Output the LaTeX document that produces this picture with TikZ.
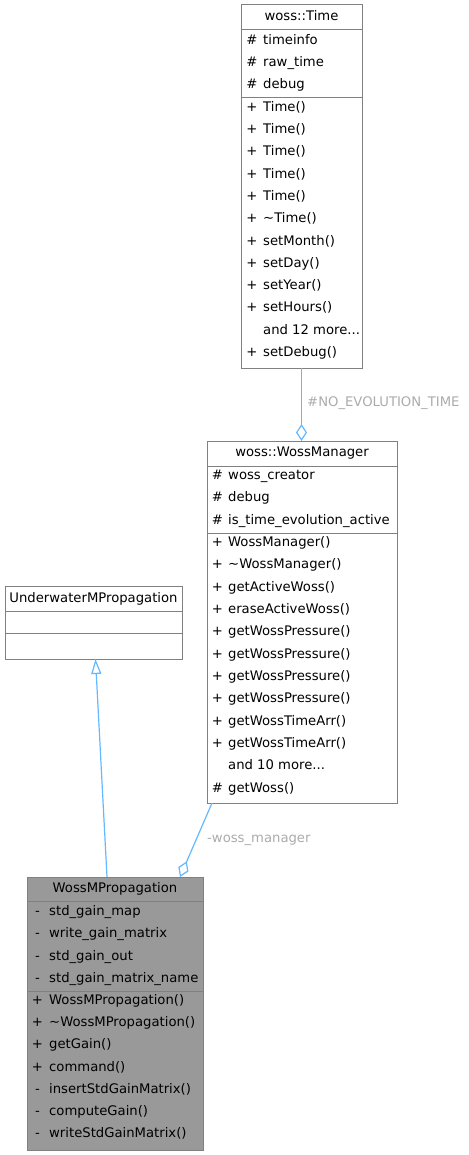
\documentclass[tikz,border=0pt]{standalone}
\usepackage{fontspec}
\setmainfont{DejaVu Sans}
\usetikzlibrary{arrows.meta,calc}
\definecolor{bordc}{HTML}{808080}
\definecolor{edgec}{HTML}{63B8FF}
\definecolor{labc}{HTML}{ABABAB}
\definecolor{fillc}{HTML}{999999}
\definecolor{txtc}{HTML}{000000}
\newcommand\mydots{...}
\newcommand\myfont{\fontsize{13.2}{15}\selectfont}
\begin{document}
\begin{tikzpicture}[x=1pt,y=-1pt,
 box/.style={draw=bordc,line width=1pt,inner sep=0,outer sep=0,anchor=north west,fill=white},
 txt/.style={font=\myfont,inner sep=0,anchor=mid west,text=txtc},
 ttl/.style={font=\myfont,inner sep=0,anchor=mid,text=txtc},
 vis/.style={font=\myfont,inner sep=0,anchor=mid,text=txtc},
 sep/.style={draw=bordc,line width=1pt},
 edge/.style={draw=edgec,line width=1.2pt},
 elab/.style={font=\myfont,text=labc,inner sep=0,anchor=mid west}]
\useasboundingbox (0,0) rectangle (468,1155);

% ---------- woss::Time ----------
\node[box,minimum width=121pt,minimum height=363pt] (time) at (241,5) {};
\node[ttl] (timettl) at (301.5,17.5) {woss::Time};
\draw[sep] (241,30) -- (362,30);
\draw[sep] (241,98) -- (362,98);
\foreach \v/\n [count=\k from 0] in {\#/timeinfo,\#/raw\_time,\#/debug}{
  \node[vis] (tav\k) at (252,41.5+\k*22.3) {\v};
  \node[txt] (tan\k) at (263,41.5+\k*22.3) {\n};
}
\foreach \v/\n [count=\k from 0] in {+/Time(),+/Time(),+/Time(),+/Time(),+/Time(),+/\textasciitilde Time(),+/setMonth(),+/setDay(),+/setYear(),+/setHours(),/and 12 more\mydots,+/setDebug()}{
  \node[vis] (tmv\k) at (252,108.5+\k*22.3) {\v};
  \node[txt] (tmn\k) at (263,108.5+\k*22.3) {\n};
}

% ---------- woss::WossManager ----------
\node[box,minimum width=190pt,minimum height=362pt] (wm) at (207,441) {};
\node[ttl] (wmttl) at (302,453.5) {woss::WossManager};
\draw[sep] (207,466) -- (397,466);
\draw[sep] (207,533) -- (397,533);
\foreach \v/\n [count=\k from 0] in {\#/woss\_creator,\#/debug,\#/is\_time\_evolution\_active}{
  \node[vis] (wav\k) at (217.5,476.7+\k*22.3) {\v};
  \node[txt] (wan\k) at (228,476.7+\k*22.3) {\n};
}
\foreach \v/\n [count=\k from 0] in {+/WossManager(),+/\textasciitilde WossManager(),+/getActiveWoss(),+/eraseActiveWoss(),+/getWossPressure(),+/getWossPressure(),+/getWossPressure(),+/getWossPressure(),+/getWossTimeArr(),+/getWossTimeArr(),/and 10 more\mydots,\#/getWoss()}{
  \node[vis] (wmv\k) at (217.5,543.7+\k*22.33) {\v};
  \node[txt] (wmn\k) at (228,543.7+\k*22.33) {\n};
}

% ---------- UnderwaterMPropagation ----------
\node[box,minimum width=177pt,minimum height=73pt] (uwp) at (5,586) {};
\node[ttl] (uwpttl) at (93.5,600) {UnderwaterMPropagation};
\draw[sep] (5,611) -- (182,611);
\draw[sep] (5,633) -- (182,633);

% ---------- WossMPropagation ----------
\node[box,fill=fillc,minimum width=176pt,minimum height=273pt] (wmp) at (27,877) {};
\node[ttl] (wmpttl) at (115,890) {WossMPropagation};
\draw[sep] (27,901) -- (203,901);
\draw[sep] (27,991) -- (203,991);
\foreach \v/\n [count=\k from 0] in {-/std\_gain\_map,-/write\_gain\_matrix,-/std\_gain\_out,-/std\_gain\_matrix\_name}{
  \node[vis] (pav\k) at (37.5,912.7+\k*22.33) {\v};
  \node[txt] (pan\k) at (49,912.7+\k*22.33) {\n};
}
\foreach \v/\n [count=\k from 0] in {+/WossMPropagation(),+/\textasciitilde WossMPropagation(),+/getGain(),+/command(),-/insertStdGainMatrix(),-/computeGain(),-/writeStdGainMatrix()}{
  \node[vis] (pmv\k) at (37.5,1001.7+\k*22.22) {\v};
  \node[txt] (pmn\k) at (49,1001.7+\k*22.22) {\n};
}

% ---------- connectors ----------
\draw[edge,-{Diamond[open,length=17pt,width=11pt]}] (time.south) -- (time.south |- wm.north);
\node[elab] (l1) at (307,404) {\#NO\_EVOLUTION\_TIME};

\draw[edge,-{Diamond[open,length=17pt,width=11pt]}] ($(wm.south west)+(5,0)$) -- ($(wmp.north west)+(153,0)$);
\node[elab] (l2) at (207,840) {-woss\_manager};

\draw[edge,-{Triangle[open,length=15pt,width=10pt]}] ($(wmp.north west)+(80,0)$) -- ($(uwp.south west)+(90.5,0)$);
\end{tikzpicture}
\end{document}
